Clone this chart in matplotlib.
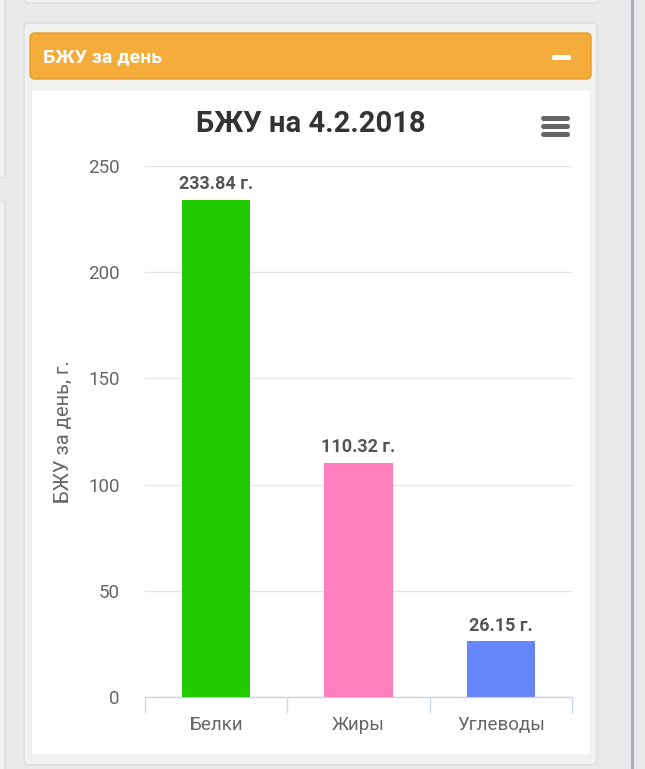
import matplotlib
matplotlib.use("Agg")
import matplotlib.pyplot as plt
from matplotlib.patches import FancyBboxPatch, Rectangle

# данные
categories = ["Белки", "Жиры", "Углеводы"]
values = [233.84, 110.32, 26.15]
bar_colors = ["#22cb00", "#ff7fbd", "#6686fa"]
y_ticks = [0, 50, 100, 150, 200, 250]
title = "БЖУ на 4.2.2018"
panel_title = "БЖУ за день"
y_label = "БЖУ за день, г."

plt.rcParams['font.family'] = ['Roboto', 'DejaVu Sans']

W, H = 645, 769
fig = plt.figure(figsize=(W / 100, H / 100), dpi=100)
fig.patch.set_facecolor("#e9e9ea")

# фон страницы в пикселях (0,0 слева сверху)
bg = fig.add_axes([0, 0, 1, 1], zorder=0)
bg.set_xlim(0, W)
bg.set_ylim(H, 0)
bg.axis("off")

def box(x0, y0, x1, y1, fc, ec="none", r=4, lw=1):
    p = FancyBboxPatch((x0, y0), x1 - x0, y1 - y0,
                       boxstyle="round,pad=0,rounding_size=%d" % r,
                       fc=fc, ec=ec, lw=lw)
    bg.add_patch(p)

# соседние карточки
box(25, -20, 598, 3, "#f1f1f2", "#dddddf")
box(-20, -20, 5, 178, "#f1f1f2", "#dddddf")
box(-20, 200, 5, 800, "#f1f1f2", "#dddddf")
# полоса справа
bg.add_patch(Rectangle((631, 0), 3, H, fc="#a9b0bf", ec="none"))

# основная карточка
box(24, 23, 597, 765, "#f1f1f2", "#dcdcde", r=5)
box(30, 33, 591, 79, "#f4ad3b", "#e39c28", r=5)
bg.text(43, 62, panel_title, color="white", fontsize=14, fontweight="bold",
        ha="left", va="baseline")
box(552, 55, 571, 60, "white", r=2)

# белая область графика
bg.add_patch(Rectangle((32, 91), 558, 663, fc="white", ec="none"))

# заголовок
bg.text(311, 132, title, color="#333333", fontsize=21, fontweight="bold",
        ha="center", va="baseline")

# меню
for yy in (118, 126, 134):
    bg.plot([543, 567], [yy, yy], color="#666666", lw=3.6,
            solid_capstyle="round")

# сам график
left, right, top, bottom = 145, 572, 166, 697
ax = fig.add_axes([left / W, (H - bottom) / H, (right - left) / W,
                   (bottom - top) / H], zorder=1)
ax.set_facecolor("none")

x = list(range(len(categories)))
ax.bar(x, values, width=0.48, color=bar_colors, zorder=3)
for xi, v in zip(x, values):
    ax.annotate("%.2f г." % v, (xi, v), xytext=(0, 5),
                textcoords="offset points", ha="center", va="bottom",
                fontsize=13, fontweight="bold", color="#555555")

ax.set_xlim(-0.5, 2.5)
ax.set_ylim(0, 250)
ax.set_yticks(y_ticks)
ax.set_yticklabels([str(t) for t in y_ticks])
ax.tick_params(axis="y", length=0, pad=18, labelsize=13.5,
               labelcolor="#666666")
ax.grid(axis="y", color="#e6e6e6", lw=1, zorder=0)

ax.set_xticks([-0.5, 0.5, 1.5, 2.5])
ax.set_xticklabels([])
ax.set_xticks(x, minor=True)
ax.set_xticklabels(categories, minor=True)
ax.tick_params(axis="x", which="major", length=11.5, color="#ccd6eb",
               width=1)
ax.tick_params(axis="x", which="minor", length=0, pad=14, labelsize=13.5,
               labelcolor="#666666")

for s in ("top", "right", "left"):
    ax.spines[s].set_visible(False)
ax.spines["bottom"].set_color("#ccd6eb")
ax.spines["bottom"].set_linewidth(1)

ax.set_ylabel(y_label, fontsize=14.5, color="#666666")
ax.yaxis.set_label_coords(-0.169, 0.5)

fig.savefig("out.png", dpi=100, facecolor=fig.get_facecolor())
